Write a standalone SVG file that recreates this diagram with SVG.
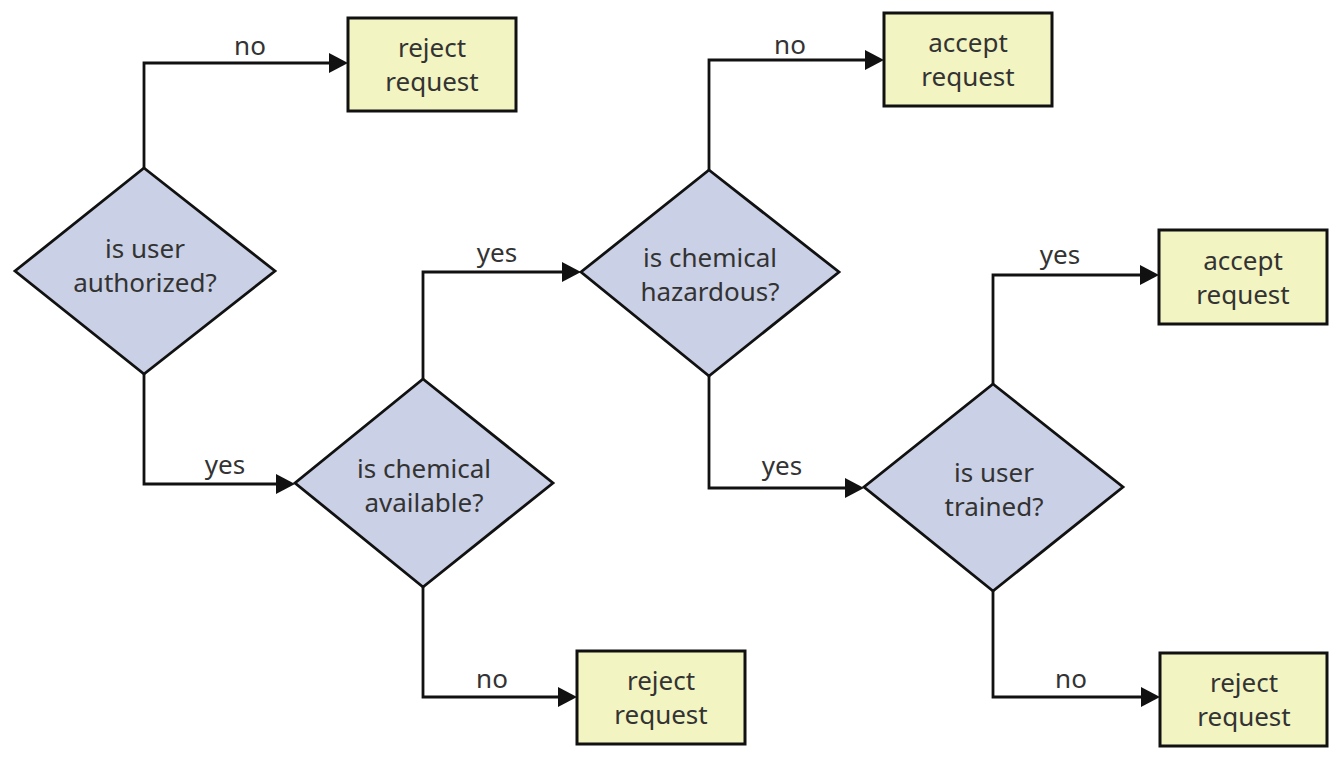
<svg xmlns="http://www.w3.org/2000/svg" width="1338" height="758" viewBox="0 0 1338 758">
<style>
.dia{fill:#cad0e5;stroke:#111;stroke-width:2.8;stroke-linejoin:miter}
.box{fill:#f2f4c1;stroke:#111;stroke-width:3}
.con{fill:none;stroke:#111;stroke-width:2.8}
text{font-family:"Noto Sans","Open Sans","DejaVu Sans",sans-serif;font-size:26px;fill:#333;text-anchor:middle}
</style>
<defs>
<marker id="arr" markerUnits="userSpaceOnUse" markerWidth="22" markerHeight="22" refX="15" refY="10" orient="auto">
<path d="M0,0 L19,10 L0,20 z" fill="#111"/>
</marker>
</defs>
<rect width="1338" height="758" fill="#fff"/>
<g id="connectors">
<path class="con" d="M144,168 V63 H344" marker-end="url(#arr)"/>
<path class="con" d="M144,374 V484 H291" marker-end="url(#arr)"/>
<path class="con" d="M423,379 V272 H577" marker-end="url(#arr)"/>
<path class="con" d="M423,587 V697 H573" marker-end="url(#arr)"/>
<path class="con" d="M709,170 V60 H880" marker-end="url(#arr)"/>
<path class="con" d="M709,376 V488 H860" marker-end="url(#arr)"/>
<path class="con" d="M993,384 V275 H1155" marker-end="url(#arr)"/>
<path class="con" d="M993,591 V697 H1156" marker-end="url(#arr)"/>
<text x="250" y="55">no</text>
<text x="225" y="474">yes</text>
<text x="497" y="262">yes</text>
<text x="492" y="688">no</text>
<text x="790" y="54">no</text>
<text x="782" y="475">yes</text>
<text x="1060" y="264">yes</text>
<text x="1071" y="688">no</text>
</g>
<g id="d1">
<polygon class="dia" points="144,168 275,271 144,374 15,271"/>
<text x="145" y="258">is user</text>
<text x="145" y="292">authorized?</text>
</g>
<g id="d2">
<polygon class="dia" points="423,379 553,483 423,587 295,483"/>
<text x="424" y="478">is chemical</text>
<text x="424" y="512">available?</text>
</g>
<g id="d3">
<polygon class="dia" points="709,170 839,272 709,376 581,272"/>
<text x="710" y="267">is chemical</text>
<text x="710" y="301">hazardous?</text>
</g>
<g id="d4">
<polygon class="dia" points="993,384 1123,487 993,591 864,487"/>
<text x="994" y="482">is user</text>
<text x="994" y="516">trained?</text>
</g>
<g id="b1">
<rect class="box" x="348" y="18" width="168" height="93"/>
<text x="432" y="57">reject</text>
<text x="432" y="91">request</text>
</g>
<g id="b2">
<rect class="box" x="884" y="13" width="168" height="93"/>
<text x="968" y="52">accept</text>
<text x="968" y="86">request</text>
</g>
<g id="b3">
<rect class="box" x="577" y="651" width="168" height="93"/>
<text x="661" y="690">reject</text>
<text x="661" y="724">request</text>
</g>
<g id="b4">
<rect class="box" x="1159" y="230" width="168" height="94"/>
<text x="1243" y="270">accept</text>
<text x="1243" y="304">request</text>
</g>
<g id="b5">
<rect class="box" x="1160" y="653" width="167" height="93"/>
<text x="1244" y="692">reject</text>
<text x="1244" y="726">request</text>
</g>
</svg>
